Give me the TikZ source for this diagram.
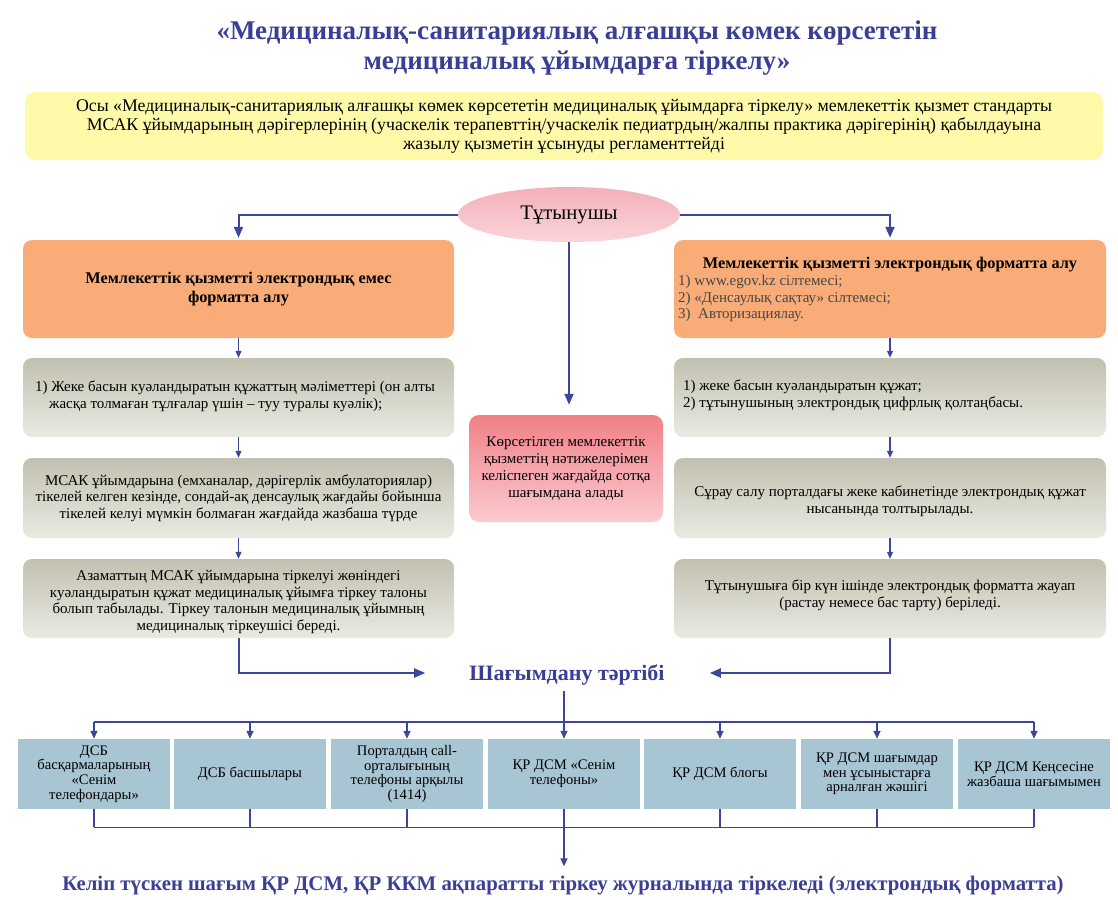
\documentclass[tikz,border=0pt]{standalone}
\usepackage{fontspec}
\setmainfont{Liberation Serif}
\usetikzlibrary{arrows.meta,shapes.geometric,calc}
\definecolor{lc}{RGB}{62,70,155}
\definecolor{titlec}{RGB}{58,62,148}
\definecolor{orangec}{RGB}{249,172,120}
\definecolor{yellowc}{RGB}{255,250,170}
\definecolor{graytop}{RGB}{194,192,176}
\definecolor{graybot}{RGB}{234,234,226}
\definecolor{redtop}{RGB}{241,128,135}
\definecolor{redbot}{RGB}{250,202,207}
\definecolor{pinktop}{RGB}{243,176,186}
\definecolor{pinkbot}{RGB}{250,212,217}
\definecolor{bluebox}{RGB}{168,197,211}
\definecolor{greytext}{RGB}{70,70,70}
\tikzset{
  arr/.style={draw=lc, line width=2pt, -{Triangle[length=11pt,width=9pt]}},
  sarr/.style={draw=lc, line width=1.2pt, -{Triangle[length=7pt,width=6pt]}},
  barr/.style={draw=lc, line width=1.4pt, -{Triangle[length=8pt,width=7pt]}},
  ln/.style={draw=lc, line width=1.4pt},
  obox/.style={fill=orangec, rounded corners=9pt, minimum width=431pt, minimum height=98pt, inner sep=0pt, align=center, font=\fontsize{16.3}{19}\selectfont\bfseries},
  gbox/.style={top color=graytop, bottom color=graybot, rounded corners=9pt, minimum width=431pt, minimum height=79pt, inner sep=0pt, align=center, font=\fontsize{15}{16.5}\selectfont},
  bbox/.style={fill=bluebox, minimum width=152pt, minimum height=70pt, inner sep=0pt, align=center, font=\fontsize{14.6}{14.6}\selectfont},
  gtext/.style={inner sep=0pt, align=left, font=\fontsize{15}{16.5}\selectfont},
}
\begin{document}
\begin{tikzpicture}[x=1pt,y=-1pt]
\useasboundingbox (0,0) rectangle (1118,899);

% title
\node[inner sep=0pt, align=center, text=titlec, font=\fontsize{27}{30}\selectfont\bfseries] (title) at (577,48)
  {«Медициналық-санитариялық алғашқы көмек көрсететін\\медициналық ұйымдарға тіркелу»};

% yellow box
\node[fill=yellowc, rounded corners=10pt, minimum width=1078pt, minimum height=68pt, inner sep=0pt, align=center,
      font=\fontsize{17.8}{19}\selectfont] (std) at (564,126)
  {Осы «Медициналық-санитариялық алғашқы көмек көрсететін медициналық ұйымдарға тіркелу» мемлекеттік қызмет стандарты\\
   МСАК ұйымдарының дәрігерлерінің (учаскелік терапевттің/учаскелік педиатрдың/жалпы практика дәрігерінің) қабылдауына\\
   жазылу қызметін ұсынуды регламенттейді};

% consumer ellipse
\node[ellipse, top color=pinktop, bottom color=pinkbot, minimum width=222pt, minimum height=55pt, inner sep=0pt, font=\fontsize{20.7}{23}\selectfont] (tut) at (569,214.5) {Тұтынушы};

% orange boxes
\node[obox] (oL) at (238.5,289) {Мемлекеттік қызметті электрондық емес\\форматта алу};
\node[obox, minimum width=432pt] (oR) at (890,289) {};
\node[inner sep=0pt, font=\fontsize{16.3}{19}\selectfont\bfseries] (oRt) at (890,265) {Мемлекеттік қызметті электрондық форматта алу};
\node[inner sep=0pt, anchor=north west, align=left, text=greytext, font=\fontsize{15}{16.5}\selectfont] (oRl) at (678,275)
  {1) www.egov.kz сілтемесі;\\2) «Денсаулық сақтау» сілтемесі;\\3)\ \ Авторизациялау.};

% left gray boxes
\node[gbox] (L1) at (238.5,397.5) {};
\node[gtext, anchor=west] (L1t) at (35,396)
  {1) Жеке басын куәландыратын құжаттың мәліметтері (он алты\\\hspace*{14pt}жасқа толмаған тұлғалар үшін – туу туралы куәлік);};
\node[gbox, minimum height=80pt] (L2) at (238.5,498)
  {МСАК ұйымдарына (емханалар, дәрігерлік амбулаториялар)\\тікелей келген кезінде, сондай-ақ денсаулық жағдайы бойынша\\тікелей келуі мүмкін болмаған жағдайда жазбаша түрде};
\node[gbox] (L3) at (238.5,598.5) {};
\node[inner sep=0pt, align=center, font=\fontsize{15}{16.5}\selectfont] (L3t) at (238.5,602)
  {Азаматтың МСАК ұйымдарына тіркелуі жөніндегі\\куәландыратын құжат медициналық ұйымға тіркеу талоны\\болып табылады. Тіркеу талонын медициналық ұйымның\\медициналық тіркеушісі береді.};

% right gray boxes
\node[gbox, minimum width=432pt] (R1) at (890,397.5) {};
\node[gtext, anchor=west] (R1t) at (683,395)
  {1) жеке басын куәландыратын құжат;\\2) тұтынушының электрондық цифрлық қолтаңбасы.};
\node[gbox, minimum width=432pt, minimum height=80pt] (R2) at (890,498) {};
\node[inner sep=0pt, align=center, font=\fontsize{15}{16.5}\selectfont] (R2t) at (890,501)
  {Сұрау салу порталдағы жеке кабинетінде электрондық құжат\\нысанында толтырылады.};
\node[gbox, minimum width=432pt] (R3) at (890,598.5) {};
\node[inner sep=0pt, align=center, font=\fontsize{15}{16.5}\selectfont] (R3t) at (890,595)
  {Тұтынушыға бір күн ішінде электрондық форматта жауап\\(растау немесе бас тарту) беріледі.};

% red box
\node[top color=redtop, bottom color=redbot, rounded corners=10pt, minimum width=194pt, minimum height=107pt, inner sep=0pt,
      align=center, font=\fontsize{15}{16.7}\selectfont] (red) at (566,468.5)
  {Көрсетілген мемлекеттік\\қызметтің нәтижелерімен\\келіспеген жағдайда сотқа\\шағымдана алады};

% complaint title
\node[inner sep=0pt, text=titlec, font=\fontsize{22}{24}\selectfont\bfseries] (shag) at (567,675) {Шағымдану тәртібі};

% bottom boxes
\node[bbox] (b1) at (94,774) {ДСБ\\басқармаларының\\«Сенім\\телефондары»};
\node[bbox] (b2) at (250,774) {ДСБ басшылары};
\node[bbox] (b3) at (407,774) {Порталдың call-\\орталығының\\телефоны арқылы\\(1414)};
\node[bbox] (b4) at (564,774) {ҚР ДСМ «Сенім\\телефоны»};
\node[bbox] (b5) at (720,774) {ҚР ДСМ блогы};
\node[bbox] (b6) at (877,774) {ҚР ДСМ шағымдар\\мен ұсыныстарға\\арналған жәшігі};
\node[bbox] (b7) at (1034,774) {ҚР ДСМ Кеңсесіне\\жазбаша шағымымен};

% final text
\node[inner sep=0pt, text=titlec, font=\fontsize{20.8}{23}\selectfont\bfseries] (final) at (563,886)
  {Келіп түскен шағым ҚР ДСМ, ҚР ККМ ақпаратты тіркеу журналында тіркеледі (электрондық форматта)};

% connectors from consumer
\draw[arr, shorten >=2pt] (tut.west) -| (oL.north);
\draw[arr, shorten >=2pt] (tut.east) -| (oR.north);
\draw[arr, shorten >=10pt] (tut.south) -- (tut.south |- red.north);

% left column
\draw[sarr] (oL.south) -- (L1.north);
\draw[sarr] (L1.south) -- (L2.north);
\draw[sarr] (L2.south) -- (L3.north);
% right column
\draw[sarr] (oR.south) -- (R1.north);
\draw[sarr] (R1.south) -- (R2.north);
\draw[sarr] (R2.south) -- (R3.north);

% to complaint title
\coordinate (sl) at ($(shag.west)+(-44,-2)$);
\coordinate (sr) at ($(shag.east)+(45,-2)$);
\draw[arr] (L3.south) |- (sl);
\draw[arr] (R3.south) |- (sr);

% distribution bus
\coordinate (bus1) at ([yshift=17pt]b1.north);
\coordinate (bus7) at ([yshift=17pt]b7.north);
\draw[ln] (bus1) -- (bus7);
\draw[ln] ([yshift=-6pt]b4.north |- shag.south) -- ([yshift=17pt]b4.north);
\foreach \b in {b1,b2,b3,b4,b5,b6,b7}{
  \draw[barr] ([yshift=17pt]\b.north) -- (\b.north);
}

% collecting bus
\draw[ln] ([yshift=-18pt]b1.south) -- ([yshift=-18pt]b7.south);
\foreach \b in {b1,b2,b3,b5,b6,b7}{
  \draw[ln] (\b.south) -- ([yshift=-18pt]\b.south);
}
\draw[barr, shorten >=10pt] (b4.south) -- (b4.south |- final.north);
\end{tikzpicture}
\end{document}
